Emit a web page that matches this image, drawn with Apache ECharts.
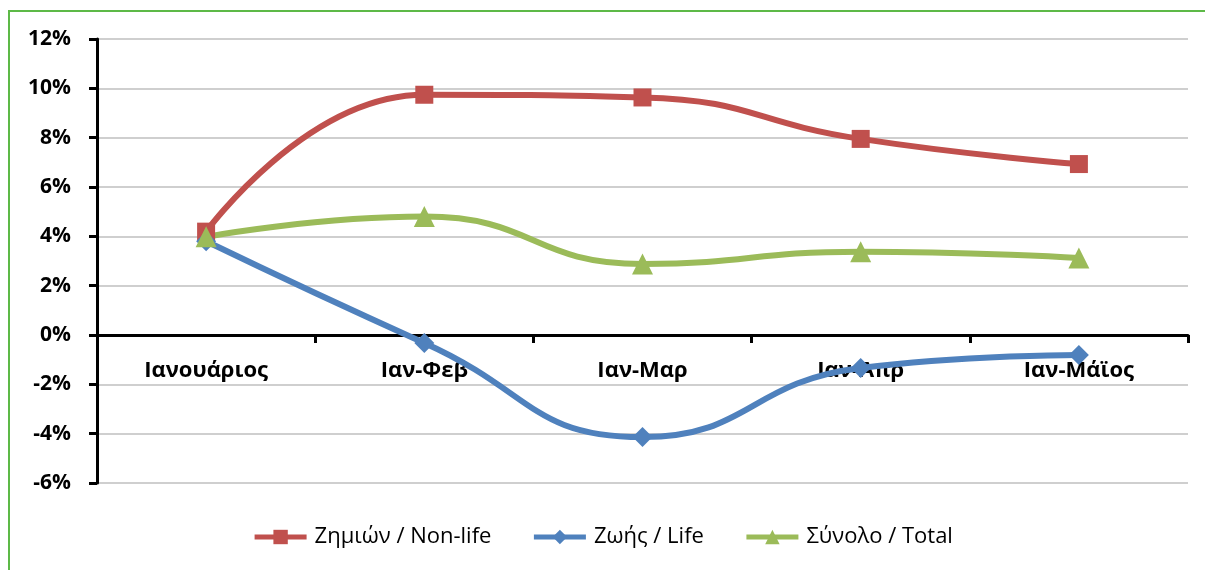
<!DOCTYPE html>
<html>
<head>
<meta charset="utf-8">
<script src="https://cdn.jsdelivr.net/npm/echarts@6/dist/echarts.min.js"></script>
<style>
  html, body { margin: 0; padding: 0; background: #fff; }
  #frame { position: absolute; left: 8px; top: 10px; width: 1220px; height: 600px; border: 2px solid #5DB947; box-sizing: border-box; }
  #chart { position: absolute; left: 0; top: 0; width: 1205px; height: 570px; }
</style>
</head>
<body>
<div id="frame"></div>
<div id="chart"></div>
<script>
// κατηγορίες (σωρευτικά διαστήματα)
var categories = ['Ιανουάριος', 'Ιαν-Φεβ', 'Ιαν-Μαρ', 'Ιαν-Απρ', 'Ιαν-Μάϊος'];
// μεταβολές σε %
var nonLife = [4.19, 9.74, 9.63, 7.95, 6.93];
var life = [3.80, -0.32, -4.14, -1.34, -0.81];
var total = [3.98, 4.80, 2.88, 3.38, 3.12];
var yTicks = { min: -6, max: 12, step: 2 };

var font = '"Open Sans", "DejaVu Sans", sans-serif';

var chart = echarts.init(document.getElementById('chart'));
var option = {
  animation: false,
  grid: { left: 97, right: 17, top: 39, bottom: 87 },
  legend: {
    top: 521,
    left: 'center',
    itemWidth: 52,
    itemHeight: 18,
    itemGap: 40,
    lineStyle: { width: 5 },
    textStyle: { fontFamily: font, fontSize: 22, color: '#000', padding: [0, 0, 0, 3] },
    data: ['Ζημιών / Non-life', 'Ζωής / Life', 'Σύνολο / Total']
  },
  xAxis: {
    type: 'category',
    data: categories,
    boundaryGap: true,
    axisLine: { onZero: true, lineStyle: { color: '#000', width: 3 } },
    axisTick: { show: true, length: 8, lineStyle: { color: '#000', width: 3 } },
    // ετικέτες κάτω από τη γραμμή του 0%
    axisLabel: { margin: -123, fontFamily: font, fontSize: 22, fontWeight: 'bold', color: '#000' },
    splitLine: { show: false }
  },
  yAxis: {
    type: 'value',
    min: yTicks.min,
    max: yTicks.max,
    interval: yTicks.step,
    axisLine: { show: true, lineStyle: { color: '#000', width: 3 } },
    axisTick: { show: true, length: 8, lineStyle: { color: '#000', width: 3 } },
    axisLabel: { margin: 26, fontFamily: font, fontSize: 21, fontWeight: 'bold', color: '#000',
      formatter: function (v) { return v + '%'; } },
    splitLine: { show: true, lineStyle: { color: '#BFBFBF', width: 1.5 } }
  },
  series: [{
    name: 'Ζημιών / Non-life',
    type: 'line',
    smooth: 0.5,
    symbol: 'rect',
    symbolSize: 18,
    lineStyle: { width: 6, color: '#C0504D' },
    itemStyle: { color: '#C0504D' },
    data: nonLife
  }, {
    name: 'Ζωής / Life',
    type: 'line',
    smooth: 0.5,
    symbol: 'diamond',
    symbolSize: 20,
    lineStyle: { width: 6, color: '#4F81BD' },
    itemStyle: { color: '#4F81BD' },
    data: life
  }, {
    name: 'Σύνολο / Total',
    type: 'line',
    smooth: 0.5,
    symbol: 'triangle',
    symbolSize: 21,
    lineStyle: { width: 6, color: '#9BBB59' },
    itemStyle: { color: '#9BBB59' },
    data: total
  }]
};
chart.setOption(option);
</script>
</body>
</html>
